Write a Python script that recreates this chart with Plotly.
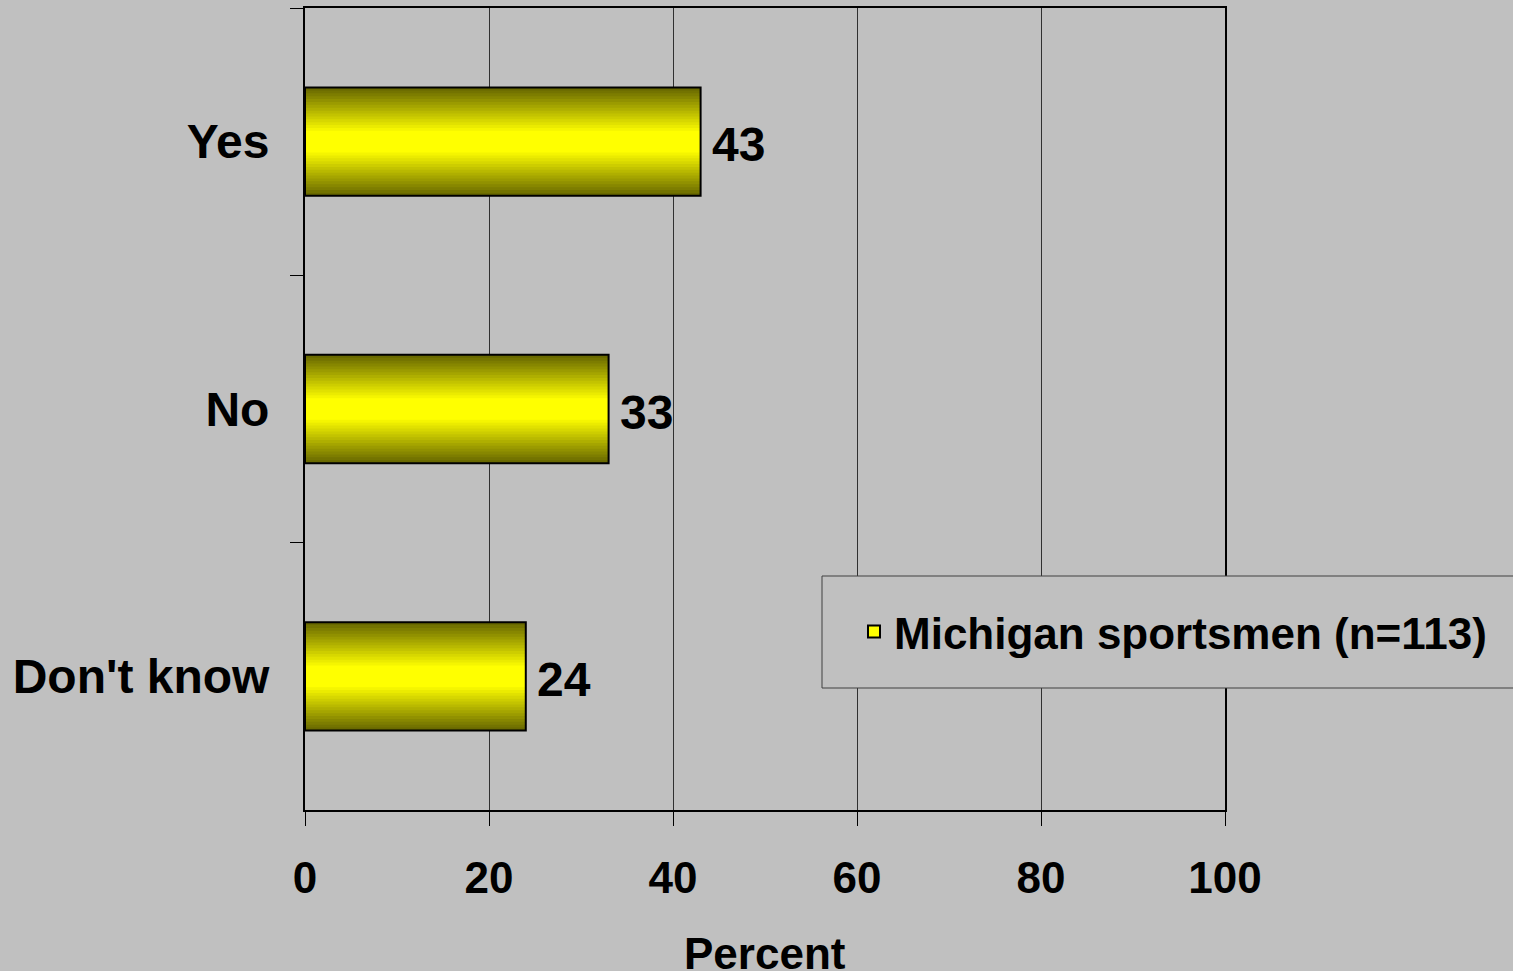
import plotly.graph_objects as go

categories = ["Yes", "No", "Don't know"]
values = [43, 33, 24]
series_name = "Michigan sportsmen (n=113)"
x_ticks = [0, 20, 40, 60, 80, 100]
x_title = "Percent"

FONT = "Liberation Sans, Arial, sans-serif"
BG = "#C0C0C0"
BAR_W = 0.405

fig = go.Figure()

# Simulated vertical gradient: stacked layers of narrowing bars, dark olive -> bright yellow
n_layers = 16
dark = (105, 105, 0)
bright = (255, 255, 0)
for i in range(n_layers):
    t = i / (n_layers - 1)
    w = BAR_W * (1 - 0.8 * t)
    c = tuple(int(round(dark[k] + (bright[k] - dark[k]) * t)) for k in range(3))
    fig.add_trace(go.Bar(
        x=values, y=categories, orientation="h", width=w,
        marker=dict(color="rgb(%d,%d,%d)" % c, line=dict(width=0)),
        showlegend=False, hoverinfo="skip",
    ))

# Outline on top
fig.add_trace(go.Bar(
    x=values, y=categories, orientation="h", width=BAR_W,
    marker=dict(color="rgba(0,0,0,0)", line=dict(color="black", width=2)),
    showlegend=False, hoverinfo="skip",
))

# Legend entry
fig.add_trace(go.Bar(
    x=[None], y=[None], orientation="h", name=series_name,
    marker=dict(color="#FFFF00", line=dict(color="black", width=2)),
    showlegend=True,
))

for v, cat in zip(values, categories):
    fig.add_annotation(
        x=v, y=cat, text=str(v), showarrow=False, xanchor="left", xshift=9, yshift=-3,
        font=dict(family=FONT, size=48, color="black", weight="bold"),
    )

# Axis title
fig.add_annotation(
    x=0.5, y=0, xref="paper", yref="paper", text=x_title, showarrow=False,
    xanchor="center", yanchor="top", yshift=-117,
    font=dict(family=FONT, size=44, color="black", weight="bold"),
)

# Legend box
L, R, T, B = 305, 1225, 8, 810
pw, ph = R - L, B - T
fig.add_shape(
    type="rect", xref="paper", yref="paper", layer="above",
    x0=(822 - L) / pw, x1=(1530 - L) / pw,
    y0=(B - 688) / ph, y1=(B - 576) / ph,
    fillcolor=BG, line=dict(color="#404040", width=1),
)

fig.update_layout(
    width=1513, height=971,
    paper_bgcolor=BG, plot_bgcolor=BG,
    margin=dict(l=L, r=1513 - R, t=T, b=971 - B, autoexpand=False),
    barmode="overlay",
    font=dict(family=FONT, size=44, color="black", weight="bold"),
    showlegend=True,
    legend=dict(
        x=(854 - L) / pw, xanchor="left",
        y=(B - 632) / ph, yanchor="middle",
        bgcolor="rgba(0,0,0,0)", borderwidth=0,
        font=dict(family=FONT, size=44, color="black", weight="bold"),
    ),
    xaxis=dict(
        range=[0, 100], tickvals=x_ticks, ticktext=[str(v) for v in x_ticks],
        showgrid=True, gridcolor="#303030", gridwidth=1,
        showline=True, linecolor="black", linewidth=2, mirror=True,
        ticks="outside", ticklen=14, tickcolor="black", tickwidth=1,
        ticklabelstandoff=14, zeroline=False, automargin=False,
        tickfont=dict(family=FONT, size=44, color="black", weight="bold"),
    ),
    yaxis=dict(
        categoryorder="array", categoryarray=categories, autorange="reversed",
        showgrid=False, showline=True, linecolor="black", linewidth=2, mirror=True,
        ticks="outside", ticklen=13, tickcolor="black", tickwidth=1,
        tickson="boundaries", ticklabelstandoff=24, automargin=False,
        tickfont=dict(family=FONT, size=48, color="black", weight="bold"),
    ),
)

fig.write_html(
    "out.html",
    config={"displayModeBar": False},
    post_script="document.body.style.margin='0';document.body.style.background='#C0C0C0';document.body.style.overflow='hidden';",
)
